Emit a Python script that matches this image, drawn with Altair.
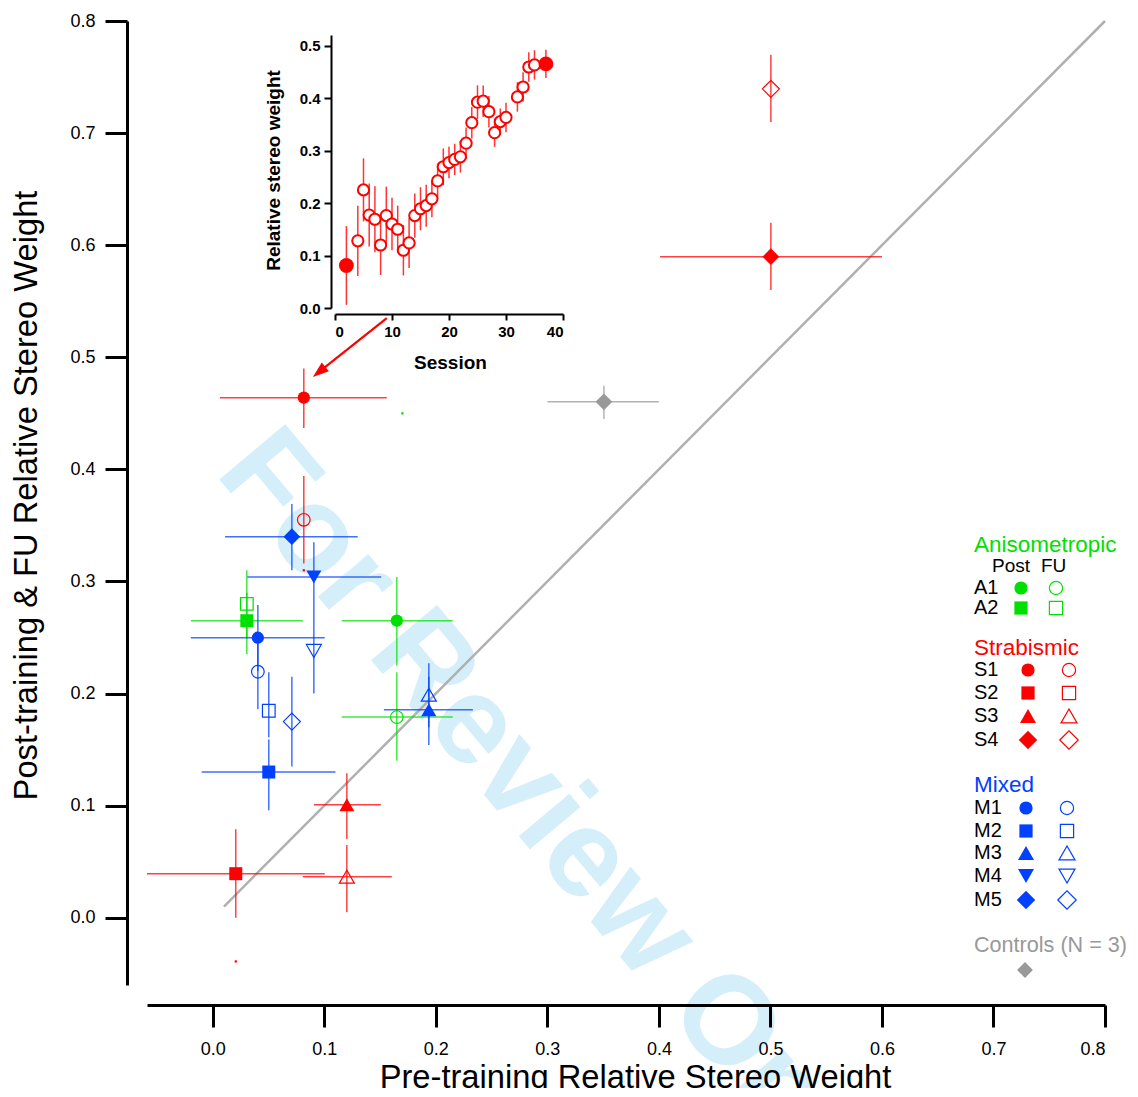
import altair as alt
import pandas as pd

W, H = 958, 964
FONT = "Liberation Sans"

# ---------------- main scatter data ----------------
ids     = ["A1", "A2", "S1", "S2", "S3", "S4", "M1", "M2", "M3", "M4", "M5", "Ctrl"]
groups  = ["A", "A", "S", "S", "S", "S", "M", "M", "M", "M", "M", "C"]
shapes  = ["circle", "square", "circle", "square", "triangle-up", "diamond",
           "circle", "square", "triangle-up", "triangle-down", "diamond", "diamond"]
pre     = [0.165, 0.0305, 0.0816, 0.0206, 0.1202, 0.5004, 0.0404, 0.0502, 0.1937, 0.0906, 0.0709, 0.3507]
pre_lo  = [0.1157, -0.0197, 0.0063, -0.059, 0.0906, 0.401, -0.0197, -0.010, 0.1534, 0.031, 0.011, 0.300]
pre_hi  = [0.2152, 0.0807, 0.156, 0.1004, 0.1507, 0.600, 0.1004, 0.110, 0.2332, 0.151, 0.130, 0.400]
post    = [0.265, 0.265, 0.464, 0.0393, 0.1008, 0.5897, 0.2498, 0.130, 0.1855, 0.304, 0.340, 0.4603]
post_lo = [0.225, 0.235, 0.437, 0.0, 0.070, 0.560, 0.220, 0.096, 0.154, 0.279, 0.310, 0.445]
post_hi = [0.304, 0.290, 0.490, 0.079, 0.129, 0.620, 0.279, 0.159, 0.215, 0.335, 0.369, 0.4746]
fu      = [0.179, 0.280, 0.355, None, 0.0366, 0.7395, 0.2195, 0.1847, 0.199, 0.238, 0.175, None]
fu_lo   = [0.140, 0.250, 0.316, None, 0.005, 0.710, 0.186, 0.161, 0.170, 0.200, 0.135, None]
fu_hi   = [0.219, 0.310, 0.394, None, 0.065, 0.770, 0.248, 0.219, 0.227, 0.279, 0.215, None]
fu_xlo  = [0.1157, None, None, None, 0.0807, None, None, None, None, None, None, None]
fu_xhi  = [0.2152, None, None, None, 0.1605, None, None, None, None, None, None, None]

# stray tiny dots visible in the original
dot_x = [0.0206, 0.0816, 0.170]
dot_y = [-0.039, 0.310, 0.450]
dot_g = ["S", "S", "A"]

diag = [0.01, 0.80]

# ---------------- inset data ----------------
sessions = [2, 4, 5, 6, 7, 8, 9, 10, 11, 12, 13, 14, 15, 16, 17, 18, 19, 20, 21, 22,
            23, 24, 25, 26, 27, 28, 29, 30, 32, 33, 34, 35, 37]
weights  = [0.081, 0.128, 0.225, 0.177, 0.169, 0.120, 0.176, 0.160, 0.150, 0.110, 0.124,
            0.176, 0.189, 0.195, 0.208, 0.242, 0.269, 0.277, 0.283, 0.288, 0.314, 0.353,
            0.392, 0.394, 0.374, 0.334, 0.355, 0.363, 0.402, 0.421, 0.459, 0.463, 0.465]
errs     = [0.075, 0.067, 0.060, 0.060, 0.063, 0.057, 0.055, 0.050, 0.045, 0.048, 0.048,
            0.042, 0.041, 0.040, 0.035, 0.033, 0.035, 0.030, 0.030, 0.030, 0.030, 0.030,
            0.032, 0.030, 0.030, 0.027, 0.025, 0.028, 0.028, 0.028, 0.028, 0.028, 0.027]

# ---------------- legend text ----------------
legend_heads = ["Anisometropic", "Strabismic", "Mixed", "Controls (N = 3)"]
legend_head_groups = ["A", "S", "M", "C"]
legend_rows = ["A1", "A2", "S1", "S2", "S3", "S4", "M1", "M2", "M3", "M4", "M5"]
legend_cols = ["Post", "FU"]

COL = {"A": "#00e000", "S": "#ff0000", "M": "#0040ff", "C": "#999999"}
FSIZE = {"circle": 150, "square": 169, "triangle-up": 225, "triangle-down": 225, "diamond": 280}
OSIZE = {"circle": 160, "square": 160, "triangle-up": 225, "triangle-down": 225, "diamond": 290}

# ---------------- build tables ----------------
rules, filled, opened = [], [], []
for i in range(len(ids)):
    c = COL[groups[i]]
    rules.append(dict(x=pre_lo[i], x2=pre_hi[i], y=post[i], y2=post[i], c=c))
    rules.append(dict(x=pre[i], x2=pre[i], y=post_lo[i], y2=post_hi[i], c=c))
    filled.append(dict(x=pre[i], y=post[i], shp=shapes[i], c=c, s=FSIZE[shapes[i]]))
    if fu[i] is not None:
        rules.append(dict(x=pre[i], x2=pre[i], y=fu_lo[i], y2=fu_hi[i], c=c))
        if fu_xlo[i] is not None:
            rules.append(dict(x=fu_xlo[i], x2=fu_xhi[i], y=fu[i], y2=fu[i], c=c))
        opened.append(dict(x=pre[i], y=fu[i], shp=shapes[i], c=c, s=OSIZE[shapes[i]]))
rules_df = pd.DataFrame(rules)
filled_df = pd.DataFrame(filled)
opened_df = pd.DataFrame(opened)
dots_df = pd.DataFrame(dict(x=dot_x, y=dot_y, c=[COL[g] for g in dot_g]))
diag_df = pd.DataFrame(dict(x=[diag[0]], x2=[diag[1]], y=[diag[0]], y2=[diag[1]]))

xs = alt.Scale(domain=[-0.059, 0.8], nice=False, zero=False)
ys = alt.Scale(domain=[-0.06, 0.8], nice=False, zero=False)
ticks = [round(0.1 * k, 1) for k in range(9)]
x_axis = alt.Axis(orient="bottom", offset=20, values=ticks, format=".1f", grid=False, zindex=1,
                  domainColor="black", domainWidth=3, tickColor="black", tickWidth=3, tickSize=22,
                  labelFont=FONT, labelFontSize=18, labelColor="black", labelPadding=13,
                  title="Pre-training Relative Stereo Weight", titleFont=FONT, titleFontSize=32.7,
                  titleFontWeight="normal", titleColor="black", titleX=488, titleY=82,
                  titleBaseline="alphabetic")
y_axis = alt.Axis(orient="left", offset=20, values=ticks, format=".1f", grid=False, zindex=1,
                  domainColor="black", domainWidth=3, tickColor="black", tickWidth=3, tickSize=22,
                  labelFont=FONT, labelFontSize=18, labelColor="black", labelPadding=10,
                  title="Post-training & FU Relative Stereo Weight", titleFont=FONT, titleFontSize=32.7,
                  titleFontWeight="normal", titleColor="black", titleX=-91, titleY=474,
                  titleBaseline="alphabetic", titleAngle=270)


def X(f="x"):
    return alt.X(f"{f}:Q", scale=xs, axis=x_axis)


def Y(f="y"):
    return alt.Y(f"{f}:Q", scale=ys, axis=y_axis)


watermark = alt.Chart(pd.DataFrame({"t": ["For Review Only"]})).mark_text(
    font=FONT, fontSize=125, fontWeight="bold", color="#d4eefa", angle=50,
    align="left", baseline="alphabetic"
).encode(x=alt.value(67), y=alt.value(452), text="t:N")

diag_layer = alt.Chart(diag_df).mark_rule(color="#b0b0b0", strokeWidth=2.5).encode(
    x=X(), x2="x2:Q", y=Y(), y2="y2:Q")

err_layer = alt.Chart(rules_df).mark_rule(strokeWidth=1.5, opacity=0.75).encode(
    x=X(), x2="x2:Q", y=Y(), y2="y2:Q", color=alt.Color("c:N", scale=None))

open_layer = alt.Chart(opened_df).mark_point(filled=False, opacity=1, strokeWidth=1.2).encode(
    x=X(), y=Y(), shape=alt.Shape("shp:N", scale=None), color=alt.Color("c:N", scale=None),
    size=alt.Size("s:Q", scale=None))

fill_layer = alt.Chart(filled_df).mark_point(filled=True, opacity=1).encode(
    x=X(), y=Y(), shape=alt.Shape("shp:N", scale=None), color=alt.Color("c:N", scale=None),
    size=alt.Size("s:Q", scale=None))

dots_layer = alt.Chart(dots_df).mark_square(size=5, opacity=1).encode(
    x=X(), y=Y(), color=alt.Color("c:N", scale=None))

# arrow from inset to S1 post point
arrow_df = pd.DataFrame(dict(x=[0.156], y=[0.535], x2=[0.0953], y2=[0.487]))
arrow_line = alt.Chart(arrow_df).mark_rule(color="#ff0000", strokeWidth=2.2).encode(
    x=X(), y=Y(), x2="x2:Q", y2="y2:Q")
arrow_head = alt.Chart(arrow_df).mark_point(
    shape="M0,-1L0.7,1L-0.7,1Z", filled=True, opacity=1, color="#ff0000", size=256, angle=231
).encode(x=X("x2"), y=Y("y2"))

main = alt.layer(watermark, diag_layer, err_layer, open_layer, fill_layer, dots_layer,
                 arrow_line, arrow_head)

# ---------------- inset ----------------
ins_df = pd.DataFrame(dict(s=sessions, w=weights,
                           lo=[w - e for w, e in zip(weights, errs)],
                           hi=[w + e for w, e in zip(weights, errs)]))
ins_df["first_last"] = [i in (0, len(sessions) - 1) for i in range(len(sessions))]
ixs = alt.Scale(domain=[0, 40], range=[188, 416], nice=False, zero=False)
iys = alt.Scale(domain=[0, 0.52], range=[287, 14], nice=False, zero=False)
ix_axis = alt.Axis(orient="bottom", offset=-671, values=[0, 10, 20, 30, 40], grid=False, zindex=1,
                   domainColor="black", domainWidth=2, tickColor="black", tickWidth=2, tickSize=6,
                   labelFont=FONT, labelFontSize=15, labelFontWeight="bold", labelColor="black",
                   labelPadding=4, title="Session", titleFont=FONT, titleFontSize=19,
                   titleFontWeight="bold", titleColor="black", titleX=303, titleY=54,
                   titleBaseline="alphabetic")
iy_axis = alt.Axis(orient="left", offset=-184, values=[0, 0.1, 0.2, 0.3, 0.4, 0.5], format=".1f",
                   grid=False, zindex=1, domainColor="black", domainWidth=2, tickColor="black",
                   tickWidth=2, tickSize=7, labelFont=FONT, labelFontSize=15, labelFontWeight="bold",
                   labelColor="black", labelPadding=4, title="Relative stereo weight",
                   titleFont=FONT, titleFontSize=19, titleFontWeight="bold", titleColor="black",
                   titleX=-52, titleY=149, titleBaseline="alphabetic", titleAngle=270)

ins_err = alt.Chart(ins_df).mark_rule(color="#ff0000", strokeWidth=1.5, opacity=0.8).encode(
    x=alt.X("s:Q", scale=ixs, axis=ix_axis), y=alt.Y("lo:Q", scale=iys, axis=iy_axis), y2="hi:Q")
ins_open = alt.Chart(ins_df).transform_filter("!datum.first_last").mark_point(
    shape="circle", filled=True, fill="white", stroke="#ff0000", strokeWidth=2, size=125, opacity=1
).encode(x=alt.X("s:Q", scale=ixs, axis=ix_axis), y=alt.Y("w:Q", scale=iys, axis=iy_axis))
ins_fill = alt.Chart(ins_df).transform_filter("datum.first_last").mark_point(
    shape="circle", filled=True, color="#ff0000", size=220, opacity=1
).encode(x=alt.X("s:Q", scale=ixs, axis=ix_axis), y=alt.Y("w:Q", scale=iys, axis=iy_axis))
inset = alt.layer(ins_err, ins_open, ins_fill)

# ---------------- custom legend (pixel layout) ----------------
OX, OY = 147, 21  # plot origin in page pixels
head_y = [545, 648, 785, 946]
head_fs = [22.5, 22.5, 22.5, 21.6]
row_y = [588, 608, 670, 693, 716, 740, 808, 831, 853, 876, 900]
mark_x = {"A": (1021, 1056), "S": (1028, 1069), "M": (1026, 1067)}
row_shapes = ["circle", "square", "circle", "square", "triangle-up", "diamond",
              "circle", "square", "triangle-up", "triangle-down", "diamond"]
LSIZE = {"circle": 175, "square": 175, "triangle-up": 256, "triangle-down": 256, "diamond": 340}

txt, lf, lo = [], [], []
for h, g, yy, fs in zip(legend_heads, legend_head_groups, head_y, head_fs):
    txt.append(dict(x=974 - OX, y=yy - OY, t=h, c=COL[g], fs=fs))
txt.append(dict(x=992 - OX, y=566 - OY, t=legend_cols[0], c="black", fs=19))
txt.append(dict(x=1041 - OX, y=566 - OY, t=legend_cols[1], c="black", fs=19))
for lab, shp, yy in zip(legend_rows, row_shapes, row_y):
    g = lab[0]
    txt.append(dict(x=974 - OX, y=yy - OY, t=lab, c="black", fs=20))
    fx, ox = mark_x[g]
    lf.append(dict(x=fx - OX, y=yy - OY, shp=shp, c=COL[g], s=LSIZE[shp]))
    lo.append(dict(x=ox - OX, y=yy - OY, shp=shp, c=COL[g], s=LSIZE[shp]))
lf.append(dict(x=1025 - OX, y=970 - OY, shp="diamond", c=COL["C"], s=250))

pxs = alt.Scale(domain=[0, W], range=[0, W], nice=False, zero=False)
pys = alt.Scale(domain=[0, H], range=[0, H], nice=False, zero=False)
LX = alt.X("x:Q", scale=pxs, axis=None)
LY = alt.Y("y:Q", scale=pys, axis=None)
leg_text = alt.Chart(pd.DataFrame(txt)).mark_text(font=FONT, align="left", baseline="middle").encode(
    x=LX, y=LY, text="t:N", color=alt.Color("c:N", scale=None), size=alt.Size("fs:Q", scale=None))
leg_fill = alt.Chart(pd.DataFrame(lf)).mark_point(filled=True, opacity=1).encode(
    x=LX, y=LY, shape=alt.Shape("shp:N", scale=None), color=alt.Color("c:N", scale=None),
    size=alt.Size("s:Q", scale=None))
leg_open = alt.Chart(pd.DataFrame(lo)).mark_point(filled=False, opacity=1, strokeWidth=1.2).encode(
    x=LX, y=LY, shape=alt.Shape("shp:N", scale=None), color=alt.Color("c:N", scale=None),
    size=alt.Size("s:Q", scale=None))
legend = alt.layer(leg_text, leg_fill, leg_open)

chart = alt.layer(main, inset, legend).resolve_scale(x="independent", y="independent").properties(
    width=W, height=H,
    autosize=alt.AutoSizeParams(type="none"),
    padding={"left": 139, "top": 13, "right": 25, "bottom": 103},
).configure(font=FONT).configure_view(stroke=None)

chart.save("out.html", embed_options={"renderer": "svg", "actions": False})
